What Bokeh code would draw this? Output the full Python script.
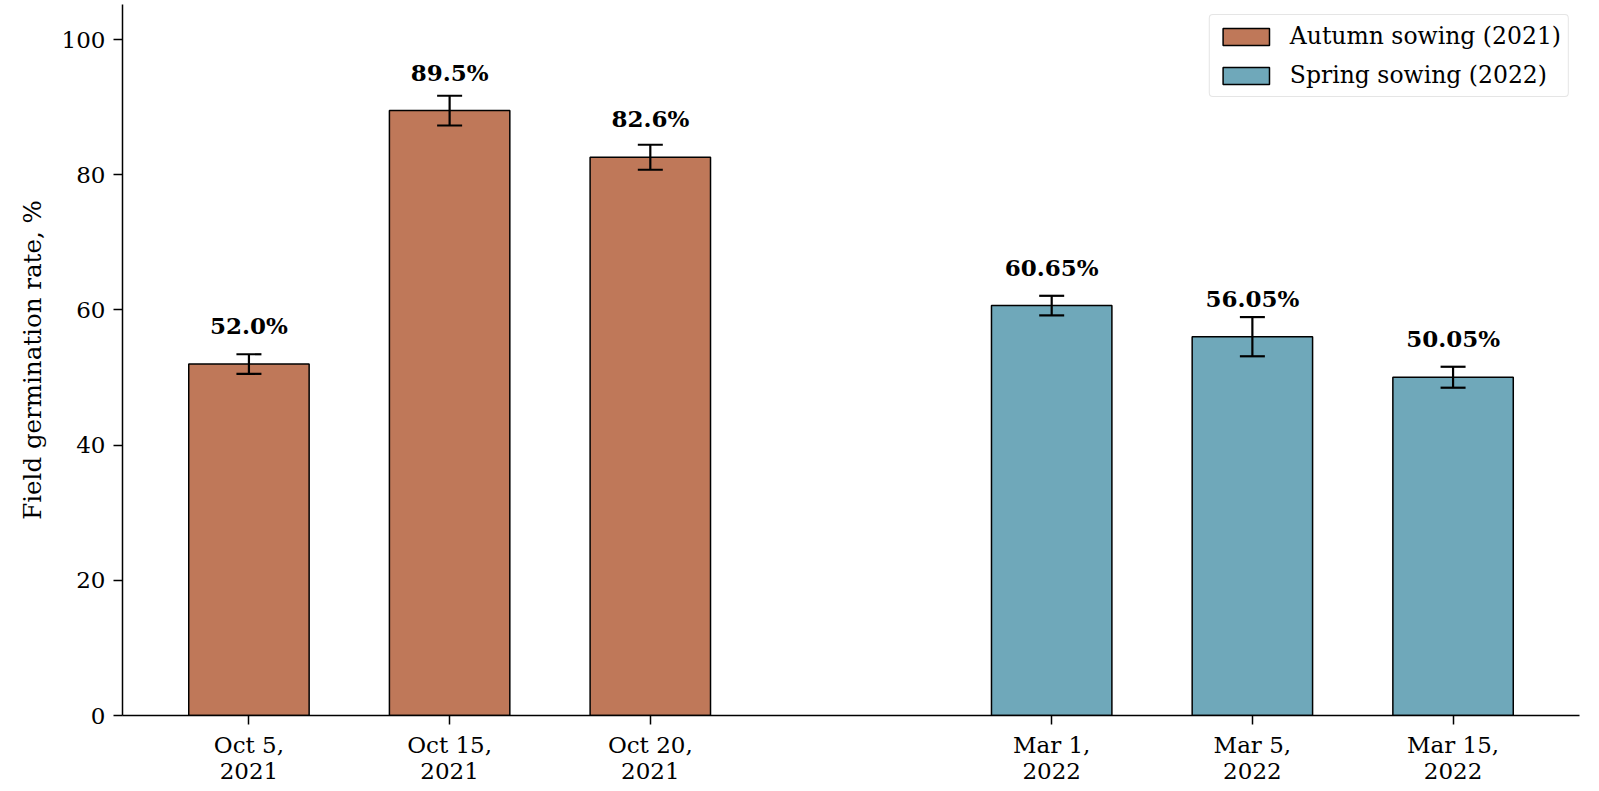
from bokeh.plotting import figure
from bokeh.models import ColumnDataSource, Whisker, TeeHead, FixedTicker, Range1d, Legend, LegendItem
from bokeh.core.properties import value
from bokeh.embed import file_html
from bokeh.resources import INLINE

# ---- data ----
autumn_labels = ["Oct 5,\n2021", "Oct 15,\n2021", "Oct 20,\n2021"]
spring_labels = ["Mar 1,\n2022", "Mar 5,\n2022", "Mar 15,\n2022"]
autumn_pos = [0, 1, 2]
spring_pos = [4, 5, 6]
autumn_vals = [52.0, 89.5, 82.6]
spring_vals = [60.65, 56.05, 50.05]
autumn_err = [1.45, 2.2, 1.85]
spring_err = [1.45, 2.9, 1.55]
autumn_text = ["52.0%", "89.5%", "82.6%"]
spring_text = ["60.65%", "56.05%", "50.05%"]
y_ticks = [0, 20, 40, 60, 80, 100]

AUT = "#BF7859"
SPR = "#6FA8BA"
FONT = "DejaVu Serif"

p = figure(frame_width=1457, frame_height=711, output_backend="svg", toolbar_location=None,
           x_range=Range1d(-0.63, 6.63), y_range=Range1d(0, 105.2),
           min_border_left=122, min_border_right=5, min_border_top=4, min_border_bottom=60)
p.outline_line_color = None
p.xgrid.visible = False
p.ygrid.visible = False
p.background_fill_color = "white"
p.border_fill_color = "white"

def make_src(pos, vals, err, text):
    return ColumnDataSource(dict(
        x=pos, top=vals,
        upper=[v + e for v, e in zip(vals, err)],
        lower=[v - e for v, e in zip(vals, err)],
        ly=[v + 3.7 for v in vals],
        txt=text,
    ))

src_a = make_src(autumn_pos, autumn_vals, autumn_err, autumn_text)
src_s = make_src(spring_pos, spring_vals, spring_err, spring_text)

ra = p.vbar(x="x", top="top", width=0.6, source=src_a, fill_color=AUT, line_color="black", line_width=1.5)
rs = p.vbar(x="x", top="top", width=0.6, source=src_s, fill_color=SPR, line_color="black", line_width=1.5)

for src in (src_a, src_s):
    w = Whisker(base="x", upper="upper", lower="lower", source=src,
                line_color="black", line_width=2.2, level="overlay",
                upper_head=TeeHead(size=25, line_color="black", line_width=2.2),
                lower_head=TeeHead(size=25, line_color="black", line_width=2.2))
    p.add_layout(w)
    p.text(x="x", y="ly", text="txt", source=src, text_align="center",
           text_baseline="bottom", text_font=value(FONT),
           text_font_size="23px", text_font_style="bold", text_color="black")

legend = Legend(items=[LegendItem(label="Autumn sowing (2021)", renderers=[ra]),
                       LegendItem(label="Spring sowing (2022)", renderers=[rs])],
                location="top_right")
legend.label_text_font = FONT
legend.label_text_font_size = "23.5px"
legend.label_text_color = "black"
legend.glyph_width = 58
legend.glyph_height = 21
legend.label_standoff = 15
legend.label_height = 24
legend.spacing = 11
legend.padding = 7
legend.margin = 10
legend.border_line_color = "#cccccc"
legend.border_line_width = 1.5
legend.background_fill_alpha = 1.0
if "border_radius" in Legend.properties():
    legend.border_radius = 4
p.add_layout(legend)

# axes
p.xaxis.ticker = FixedTicker(ticks=autumn_pos + spring_pos)
p.xaxis.major_label_overrides = {k: v for k, v in zip(autumn_pos + spring_pos, autumn_labels + spring_labels)}
p.yaxis.ticker = FixedTicker(ticks=y_ticks)
for ax in (p.xaxis, p.yaxis):
    ax.axis_line_color = "black"
    ax.axis_line_width = 1.5
    ax.major_tick_line_color = "black"
    ax.major_tick_line_width = 1.5
    ax.major_tick_out = 9
    ax.major_tick_in = 0
    ax.minor_tick_line_color = None
    ax.major_label_text_font = FONT
    ax.major_label_text_font_size = "23px"
    ax.major_label_text_color = "black"
p.xaxis.major_label_text_line_height = 1.0
p.xaxis.major_label_standoff = 7
p.yaxis.major_label_standoff = 8
p.yaxis.axis_label = "Field germination rate, %"
p.yaxis.axis_label_text_font = FONT
p.yaxis.axis_label_text_font_size = "24.5px"
p.yaxis.axis_label_text_font_style = "normal"
p.yaxis.axis_label_text_color = "black"
p.yaxis.axis_label_standoff = 12

open("out.html", "w").write(file_html(p, INLINE))
